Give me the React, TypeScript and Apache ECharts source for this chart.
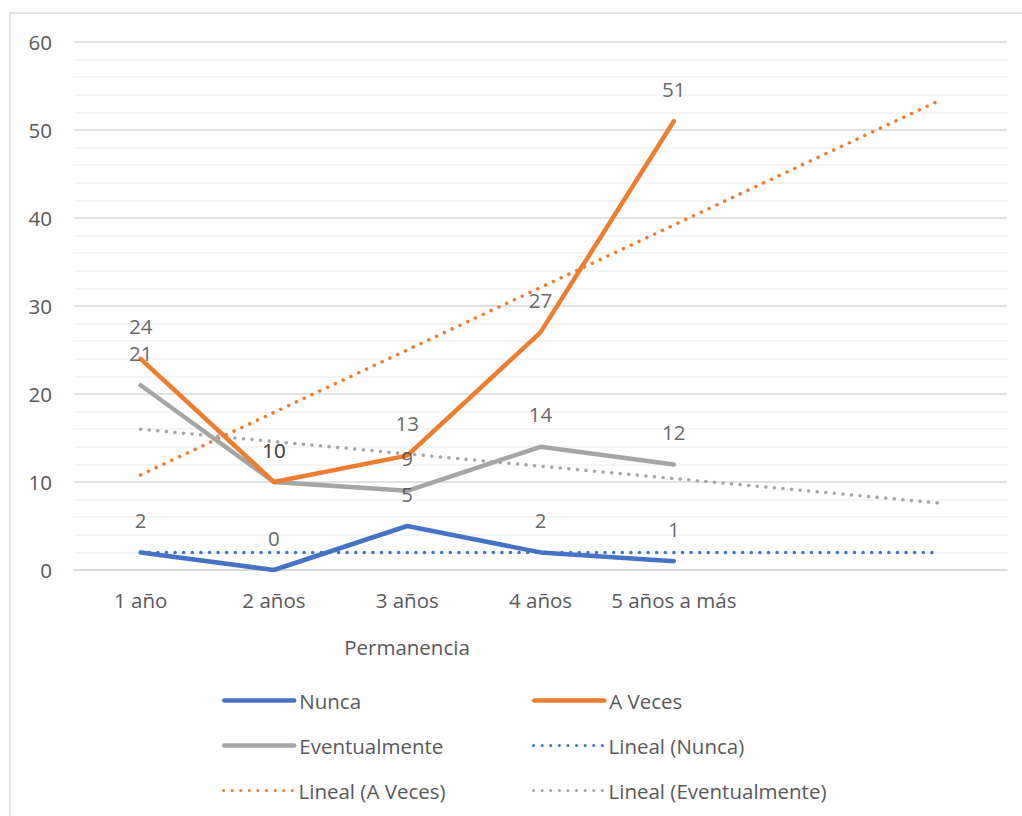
import React, { useEffect, useRef } from "react";
import * as echarts from "echarts";

const categories = ["1 año", "2 años", "3 años", "4 años", "5 años a más", "", ""];
const nunca = [2, 0, 5, 2, 1];
const aVeces = [24, 10, 13, 27, 51];
const eventualmente = [21, 10, 9, 14, 12];
// linear trend endpoints (first and 7th category)
const trendNunca = [2, null, null, null, null, null, 2];
const trendAVeces = [10.8, null, null, null, null, null, 53.4];
const trendEventualmente = [16, null, null, null, null, null, 7.6];
const yTicks = { min: 0, max: 60, interval: 10 };

const FONT = "'Open Sans', Lato, sans-serif";
const FS = 20.5;
const BLUE = "#4472C4";
const ORANGE = "#ED7D31";
const GRAY = "#A5A5A5";
const TEXT = "#595959";

export default function App() {
  const ref = useRef<HTMLDivElement>(null);
  useEffect(() => {
    if (!ref.current) return;
    const chart = echarts.init(ref.current, undefined, { renderer: "svg" });
    const mainLine = (name: string, data: number[], color: string) => ({
      name,
      type: "line",
      data,
      symbol: "none",
      color,
      lineStyle: { color, width: 4.5, cap: "round", join: "round" },
      z: 3,
    });
    const labelSeries = (name: string, data: number[]) => ({
      name: name + " etiqueta",
      type: "scatter",
      data,
      symbolSize: 0,
      silent: true,
      z: 5,
      label: {
        show: true,
        position: "top",
        distance: 22,
        color: "#404040",
        fontSize: FS,
        fontFamily: FONT,
      },
    });
    const trendLine = (name: string, data: (number | null)[], color: string) => ({
      name,
      type: "line",
      data,
      connectNulls: true,
      symbol: "none",
      color,
      lineStyle: { color, width: 3.5, type: [0.1, 8.5], cap: "round" },
      z: 2,
    });
    const legendPos = [
      { name: "Nunca", left: 222, top: 690, w: 4.5 },
      { name: "A Veces", left: 532, top: 690, w: 4.5 },
      { name: "Eventualmente", left: 222, top: 735, w: 4.5 },
      { name: "Lineal (Nunca)", left: 532, top: 735, w: 3 },
      { name: "Lineal (A Veces)", left: 222, top: 780, w: 3 },
      { name: "Lineal (Eventualmente)", left: 532, top: 780, w: 3 },
    ];
    chart.setOption({
      animation: false,
      backgroundColor: "#ffffff",
      textStyle: { fontFamily: FONT },
      grid: { left: 74, right: 15, top: 42, bottom: 246 },
      xAxis: {
        type: "category",
        data: categories,
        boundaryGap: true,
        axisLine: { show: true, lineStyle: { color: "#D9D9D9", width: 1.5 } },
        axisTick: { show: false },
        axisLabel: { color: TEXT, fontSize: FS, fontFamily: FONT, margin: 19, interval: 0 },
        splitLine: { show: false },
      },
      yAxis: {
        type: "value",
        min: yTicks.min,
        max: yTicks.max,
        interval: yTicks.interval,
        axisLine: { show: false },
        axisTick: { show: false },
        axisLabel: { color: TEXT, fontSize: FS, fontFamily: FONT, margin: 22 },
        splitLine: { show: true, lineStyle: { color: "#D9D9D9", width: 1.5 } },
        minorTick: { show: false, splitNumber: 5 },
        minorSplitLine: { show: true, lineStyle: { color: "#F2F2F2", width: 1.5 } },
      },
      legend: legendPos.map((l) => ({
        data: [l.name],
        left: l.left,
        top: l.top,
        itemWidth: 70,
        itemHeight: 14,
        itemGap: 0,
        padding: 0,
        selectedMode: false,
        itemStyle: { opacity: 0 },
        lineStyle: { width: l.w },
        textStyle: { color: TEXT, fontSize: FS, fontFamily: FONT, padding: [0, 0, 4, 0] },
      })),
      graphic: [
        {
          type: "rect",
          shape: { x: 10, y: 13, width: 1100, height: 900 },
          style: { fill: "none", stroke: "#D9D9D9", lineWidth: 1.5 },
          silent: true,
          z: -10,
        },
        {
          type: "text",
          x: 407,
          y: 647,
          style: {
            text: "Permanencia",
            fill: TEXT,
            fontSize: FS,
            fontFamily: FONT,
            align: "center",
            verticalAlign: "middle",
          },
        },
      ],
      series: [
        trendLine("Lineal (Nunca)", trendNunca, BLUE),
        trendLine("Lineal (A Veces)", trendAVeces, ORANGE),
        trendLine("Lineal (Eventualmente)", trendEventualmente, GRAY),
        mainLine("Nunca", nunca, BLUE),
        mainLine("Eventualmente", eventualmente, GRAY),
        mainLine("A Veces", aVeces, ORANGE),
        labelSeries("Nunca", nunca),
        labelSeries("A Veces", aVeces),
        labelSeries("Eventualmente", eventualmente),
      ],
    });
    return () => chart.dispose();
  }, []);
  return (
    <div
      ref={ref}
      style={{ position: "fixed", left: 0, top: 0, width: 1022, height: 816 }}
    />
  );
}
